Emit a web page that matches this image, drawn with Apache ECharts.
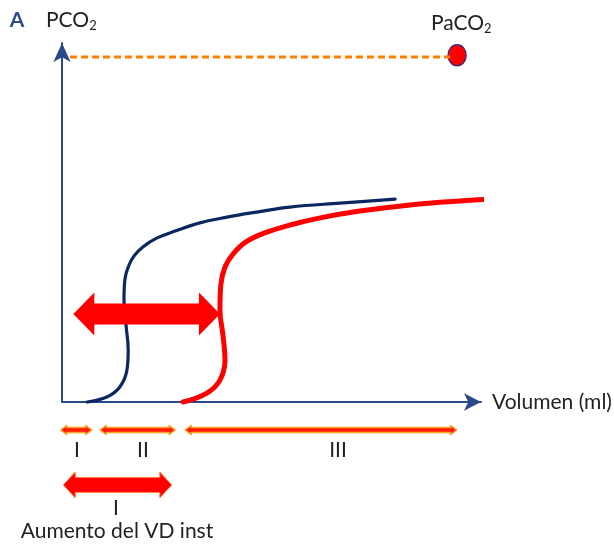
<!DOCTYPE html>
<html><head><meta charset="utf-8">
<script src="https://cdn.jsdelivr.net/npm/echarts@6/dist/echarts.min.js"></script>
<style>html,body{margin:0;padding:0;background:#fff}#c{width:614px;height:548px}</style>
</head><body><div id="c"></div>
<script>
// Capnogram curves: [volume, PCO2] in relative units (0-100)
const normalCurve = [[6.0,0],[10.7,1.4],[13.8,4.2],[15.5,8.9],[15.8,14.5],[15.3,21.2],[14.8,28.4],[15.0,34.0],[15.8,37.6],[17.2,40.7],[19.3,43.2],[22.7,45.7],[27.0,47.6],[32.9,49.9],[39.4,51.5],[46.5,52.9],[54.4,54.3],[66.3,55.4],[79.5,56.5]];
const increasedCurve = [[28.9,0],[34.6,2.5],[37.7,6.1],[38.9,11.7],[38.4,18.7],[37.7,25.6],[37.9,32.6],[38.9,37.6],[40.8,41.2],[43.9,44.6],[48.4,47.1],[54.4,49.3],[61.6,51.3],[71.1,53.2],[83.1,54.9],[95.0,56.0],[102.9,56.5]];
const paco2Line = [[1.9,96.1],[92.6,96.1]];
const paco2Point = [[94.3,96.6]];
// Double arrows: [xStart, xEnd, y]
const shiftArrow = [[2.7,37.7,24.5]];
const phaseArrows = [[-0.3,7.1,-7.8],[9.1,27.0,-7.8],[29.4,94.2,-7.8]];
const vdArrow = [[0.3,26.2,-23.1]];
const phaseLabels = ['I','II','III'];

function doubleArrow(shaft, headW, headL, fill, stroke, lw){
  return function(params, api){
    const a = api.coord([api.value(0), api.value(2)]);
    const b = api.coord([api.value(1), api.value(2)]);
    const y = a[1], x0 = a[0], x1 = b[0], s = shaft/2, h = headW/2;
    const pts = [[x0,y],[x0+headL,y-h],[x0+headL,y-s],[x1-headL,y-s],[x1-headL,y-h],[x1,y],[x1-headL,y+h],[x1-headL,y+s],[x0+headL,y+s],[x0+headL,y+h]];
    return {type:'polygon', shape:{points:pts}, style:{fill:fill, stroke:stroke, lineWidth:lw, lineJoin:'round'}};
  };
}
const FONT = 'Lato';
const navy = '#2b4a8c';
const ink = '#222';
const chart = echarts.init(document.getElementById('c'));
chart.setOption({
  animation:false,
  grid:{left:62, top:43, width:419, height:359},
  xAxis:{type:'value', min:0, max:100, splitLine:{show:false}, axisTick:{show:false}, axisLabel:{show:false},
    axisLine:{show:true, onZero:false, symbol:['none','arrow'], symbolSize:[13,17], lineStyle:{color:navy, width:2}}},
  yAxis:{type:'value', min:0, max:100, splitLine:{show:false}, axisTick:{show:false}, axisLabel:{show:false},
    axisLine:{show:true, onZero:false, symbol:['none','arrow'], symbolSize:[13,19], lineStyle:{color:navy, width:2}}},
  series:[
    {type:'line', data:paco2Line, symbol:'none', clip:false, lineStyle:{color:'#ff8000', width:3, type:[7,4]}},
    {type:'scatter', data:paco2Point, symbol:'circle', symbolSize:[18,21], clip:false, itemStyle:{color:'#ff0000', opacity:1, borderColor:'#4a2a6a', borderWidth:1.5}},
    {type:'line', data:normalCurve, smooth:0.4, symbol:'none', clip:false, lineStyle:{color:'#0a275f', width:3.2, cap:'round'}},
    {type:'line', data:increasedCurve, smooth:0.4, symbol:'none', clip:false, lineStyle:{color:'#ff0000', width:5, cap:'round'}},
    {type:'custom', data:shiftArrow, encode:{x:[0,1], y:2}, renderItem:doubleArrow(21,43,21,'#ff0000',null,0), clip:false, z:5},
    {type:'custom', data:phaseArrows, encode:{x:[0,1], y:2}, renderItem:doubleArrow(5,9,6,'#ff1a00','#ffa020',1.5), clip:false},
    {type:'custom', data:vdArrow, encode:{x:[0,1], y:2}, renderItem:doubleArrow(15,26,12,'#ff0000','#ff8a40',1), clip:false}
  ],
  graphic:[
    {type:'text', x:17, y:20, style:{text:'A', font:'bold 21px '+FONT, fill:navy, textAlign:'center', textVerticalAlign:'middle'}},
    {type:'text', x:46, y:20, style:{text:'{m|PCO}{s|2}', textVerticalAlign:'middle', rich:{m:{font:'21px '+FONT, fill:ink}, s:{font:'13px '+FONT, fill:ink, padding:[12,0,0,0]}}}},
    {type:'text', x:431, y:23, style:{text:'{m|PaCO}{s|2}', textVerticalAlign:'middle', rich:{m:{font:'21px '+FONT, fill:ink}, s:{font:'13px '+FONT, fill:ink, padding:[12,0,0,0]}}}},
    {type:'text', x:492, y:402, style:{text:'Volumen (ml)', font:'21px '+FONT, fill:ink, textVerticalAlign:'middle'}},
    {type:'text', x:77, y:450, style:{text:phaseLabels[0], font:'21px '+FONT, fill:ink, textAlign:'center', textVerticalAlign:'middle'}},
    {type:'text', x:143, y:450, style:{text:phaseLabels[1], font:'21px '+FONT, fill:ink, textAlign:'center', textVerticalAlign:'middle'}},
    {type:'text', x:338, y:450, style:{text:phaseLabels[2], font:'21px '+FONT, fill:ink, textAlign:'center', textVerticalAlign:'middle'}},
    {type:'text', x:116, y:508, style:{text:'I', font:'21px '+FONT, fill:ink, textAlign:'center', textVerticalAlign:'middle'}},
    {type:'text', x:117, y:531, style:{text:'Aumento del VD inst', font:'21px '+FONT, fill:ink, textAlign:'center', textVerticalAlign:'middle'}}
  ]
});
</script></body></html>
